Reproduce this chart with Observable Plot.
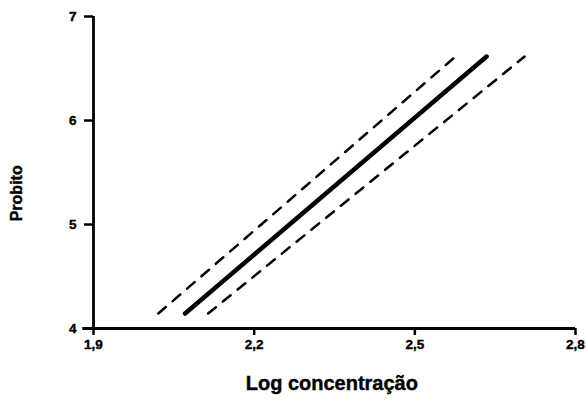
<!DOCTYPE html>
<html><head><meta charset="utf-8">
<script src="https://cdn.jsdelivr.net/npm/d3@7"></script>
<script src="https://cdn.jsdelivr.net/npm/@observablehq/plot@0.6"></script>
<style>body{margin:0;background:#fff}svg{display:block}</style>
</head><body><div id="chart"></div>
<script>
const xTicks = [1.9, 2.2, 2.5, 2.8];
const yTicks = [4, 5, 6, 7];
const fitX = [2.071, 2.634];
const fitY = [4.144, 6.615];
const upperX = [2.021, 2.576];
const upperY = [4.144, 6.615];
const lowerX = [2.114, 2.705];
const lowerY = [4.144, 6.615];

const fit = fitX.map((x, i) => ({x, y: fitY[i]}));
const upper = upperX.map((x, i) => ({x, y: upperY[i]}));
const lower = lowerX.map((x, i) => ({x, y: lowerY[i]}));
const fmt = d => String(d).replace(".", ",");

const chart = Plot.plot({
  width: 586, height: 403,
  marginLeft: 93, marginRight: 11, marginTop: 16, marginBottom: 75,
  style: {fontFamily: "'Liberation Sans', Arial, sans-serif", fontWeight: "bold", fontSize: "13.5px", color: "#000", background: "#fff"},
  x: {domain: [1.9, 2.8]},
  y: {domain: [4, 7]},
  marks: [
    Plot.axisX({ticks: xTicks, tickFormat: fmt, tickSize: 7, tickPadding: 4, strokeWidth: 2.5, label: null, fontSize: 13.5, fontWeight: "bold"}),
    Plot.axisY({ticks: yTicks, tickFormat: d => d, tickSize: 9, tickPadding: 8, strokeWidth: 2.5, label: null, fontSize: 13.5, fontWeight: "bold"}),
    Plot.ruleY([4], {x1: 1.88, x2: 2.8, stroke: "#000", strokeWidth: 2.8}),
    Plot.ruleX([1.9], {y1: 3.98, y2: 7, stroke: "#000", strokeWidth: 2.8}),
    Plot.line(upper, {x: "x", y: "y", stroke: "#000", strokeWidth: 2.5, strokeDasharray: "10,9"}),
    Plot.line(lower, {x: "x", y: "y", stroke: "#000", strokeWidth: 2.5, strokeDasharray: "10,9"}),
    Plot.line(fit, {x: "x", y: "y", stroke: "#000", strokeWidth: 4.5}),
    Plot.text(["Log concentração"], {x: 2.345, y: 4, dy: 55, fontSize: 20, fontWeight: "bold"}),
    Plot.text(["Probito"], {x: 1.9, y: 5.3, dx: -77, rotate: -90, fontSize: 16, fontWeight: "bold"})
  ]
});
d3.select(chart).selectAll("text").attr("stroke", "#000").attr("stroke-width", 0.4);
document.getElementById("chart").append(chart);
</script></body></html>
